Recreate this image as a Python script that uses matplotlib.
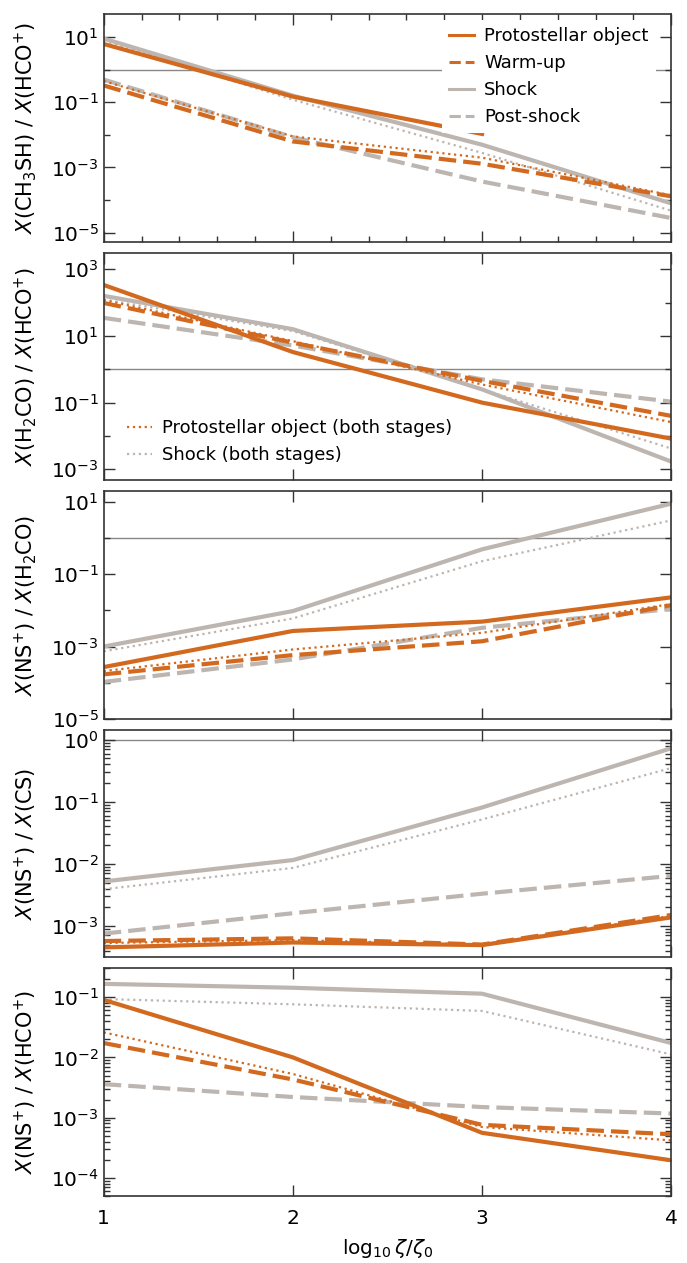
import matplotlib
matplotlib.use("Agg")
import matplotlib.pyplot as plt
from matplotlib.lines import Line2D
from matplotlib.ticker import MultipleLocator, FixedLocator, NullFormatter

# log10(zeta/zeta0)
x = [1, 2, 3, 4]

# panel 1: X(CH3SH)/X(HCO+)
ch3sh_proto = [6.2, 0.15, 0.0107]          # no value at x=4
ch3sh_proto_x = [1, 2, 3]
ch3sh_warm = [0.33, 0.0063, 0.0013, 1.3e-4]
ch3sh_proto_both = [0.45, 0.009, 0.002, 1.4e-4]
ch3sh_shock = [9.1, 0.16, 0.005, 7.9e-5]
ch3sh_post = [0.5, 0.0085, 3.7e-4, 2.8e-5]
ch3sh_shock_both = [7.9, 0.12, 0.0028, 4.7e-5]

# panel 2: X(H2CO)/X(HCO+)
h2co_proto = [340, 3.3, 0.1, 0.0083]
h2co_warm = [98, 6.3, 0.45, 0.04]
h2co_proto_both = [120, 7.0, 0.35, 0.026]
h2co_shock = [160, 16, 0.25, 0.0017]
h2co_post = [35, 5.2, 0.5, 0.107]
h2co_shock_both = [125, 14, 0.25, 0.0042]

# panel 3: X(NS+)/X(H2CO)
nsh2co_proto = [2.7e-4, 2.7e-3, 4.9e-3, 0.023]
nsh2co_warm = [1.7e-4, 5.8e-4, 1.4e-3, 0.014]
nsh2co_proto_both = [2.1e-4, 8.3e-4, 2.4e-3, 0.015]
nsh2co_shock = [1.0e-3, 0.0096, 0.49, 9.0]
nsh2co_post = [1.05e-4, 4.4e-4, 3.3e-3, 0.011]
nsh2co_shock_both = [7.4e-4, 0.006, 0.23, 3.1]

# panel 4: X(NS+)/X(CS)
nscs_proto = [4.5e-4, 5.4e-4, 4.9e-4, 1.37e-3]
nscs_warm = [5.7e-4, 6.3e-4, 5.0e-4, 1.5e-3]
nscs_proto_both = [5.3e-4, 5.9e-4, 5.0e-4, 1.45e-3]
nscs_shock = [5.2e-3, 0.0115, 0.081, 0.73]
nscs_post = [7.5e-4, 1.6e-3, 3.3e-3, 6.4e-3]
nscs_shock_both = [3.9e-3, 8.6e-3, 0.052, 0.35]

# panel 5: X(NS+)/X(HCO+)
nshco_proto = [0.09, 0.01, 5.6e-4, 1.96e-4]
nshco_warm = [0.0173, 4.3e-3, 7.6e-4, 5.3e-4]
nshco_proto_both = [0.026, 5.3e-3, 7.0e-4, 4.2e-4]
nshco_shock = [0.166, 0.143, 0.114, 0.0173]
nshco_post = [3.6e-3, 2.2e-3, 1.5e-3, 1.17e-3]
nshco_shock_both = [0.093, 0.076, 0.059, 0.0112]

ylabels = [r'$X$(CH$_3$SH) / $X$(HCO$^{+}$)',
           r'$X$(H$_2$CO) / $X$(HCO$^{+}$)',
           r'$X$(NS$^{+}$) / $X$(H$_2$CO)',
           r'$X$(NS$^{+}$) / $X$(CS)',
           r'$X$(NS$^{+}$) / $X$(HCO$^{+}$)']
ylims = [(5.3e-6, 52), (4.7e-4, 3.2e3), (1e-5, 20), (3.1e-4, 1.45), (5e-5, 0.3)]
# labelled decades for the wide panels (others use the default log ticks)
major_exp = [[1, -1, -3, -5], [3, 1, -1, -3], [1, -1, -3, -5], None, None]

orange = '#d2691e'
grey = '#bdb5b0'
lw = 3
dash = (4.2, 1.7)

plt.rcParams['font.family'] = 'DejaVu Sans'
plt.rcParams['mathtext.fontset'] = 'dejavusans'

fig, axes = plt.subplots(5, 1, figsize=(6.87, 12.63), dpi=100)
fig.subplots_adjust(left=0.151, right=0.977, top=0.989, bottom=0.053, hspace=0.048)

panels = [
    (ch3sh_proto, ch3sh_warm, ch3sh_proto_both, ch3sh_shock, ch3sh_post, ch3sh_shock_both),
    (h2co_proto, h2co_warm, h2co_proto_both, h2co_shock, h2co_post, h2co_shock_both),
    (nsh2co_proto, nsh2co_warm, nsh2co_proto_both, nsh2co_shock, nsh2co_post, nsh2co_shock_both),
    (nscs_proto, nscs_warm, nscs_proto_both, nscs_shock, nscs_post, nscs_shock_both),
    (nshco_proto, nshco_warm, nshco_proto_both, nshco_shock, nshco_post, nshco_shock_both),
]

for i, ax in enumerate(axes):
    proto, warm, proto_both, shock, post, shock_both = panels[i]
    ax.axhline(1, color='#888888', lw=1, zorder=1)
    px = ch3sh_proto_x if i == 0 else x
    ax.plot(x, shock_both, color=grey, lw=1.6, ls=':')
    ax.plot(x, post, color=grey, lw=lw, ls=(0, dash))
    ax.plot(x, shock, color=grey, lw=lw)
    ax.plot(x, proto_both, color=orange, lw=1.6, ls=':')
    ax.plot(x, warm, color=orange, lw=lw, ls=(0, dash))
    ax.plot(px, proto, color=orange, lw=lw)
    ax.set_yscale('log')
    if major_exp[i] is not None:
        ex = major_exp[i]
        ax.yaxis.set_major_locator(FixedLocator([10.0 ** e for e in ex]))
        ax.yaxis.set_minor_locator(FixedLocator([10.0 ** (e - 1) for e in ex]))
        ax.yaxis.set_minor_formatter(NullFormatter())
    ax.set_ylim(*ylims[i])
    ax.set_xlim(1, 4)
    ax.set_ylabel(ylabels[i], fontsize=15, labelpad=9)
    ax.xaxis.set_major_locator(MultipleLocator(1))
    ax.tick_params(which='both', direction='in', top=True, right=True,
                   labelsize=14.5, color='#333333')
    ax.tick_params(which='major', length=8, width=1)
    ax.tick_params(which='minor', length=4, width=1)
    ax.tick_params(axis='x', pad=9)
    for s in ax.spines.values():
        s.set_color('#333333')
        s.set_linewidth(1.2)
    if i < 4:
        ax.set_xticklabels([])

axes[0].xaxis.set_minor_locator(MultipleLocator(0.2))
axes[-1].set_xlabel(r'$\log_{10}\zeta/\zeta_0$', fontsize=14.5, labelpad=7)
fig.align_ylabels(axes)

h1 = [Line2D([], [], color=orange, lw=2.2),
      Line2D([], [], color=orange, lw=2.2, ls='--'),
      Line2D([], [], color=grey, lw=2.2),
      Line2D([], [], color=grey, lw=2.2, ls='--')]
axes[0].legend(h1, ['Protostellar object', 'Warm-up', 'Shock', 'Post-shock'],
               loc='upper right', bbox_to_anchor=(0.989, 1.013), fontsize=13,
               handlelength=1.4, handletextpad=0.55, labelspacing=0.5,
               fancybox=False, framealpha=1, edgecolor='none')

h2 = [Line2D([], [], color=orange, lw=1.6, ls=':'),
      Line2D([], [], color=grey, lw=1.6, ls=':')]
axes[1].legend(h2, ['Protostellar object (both stages)', 'Shock (both stages)'],
               loc='lower left', bbox_to_anchor=(0.012, 0.0), fontsize=13,
               handlelength=1.4, handletextpad=0.55, labelspacing=0.5,
               frameon=False)

fig.savefig('out.png', dpi=100)
